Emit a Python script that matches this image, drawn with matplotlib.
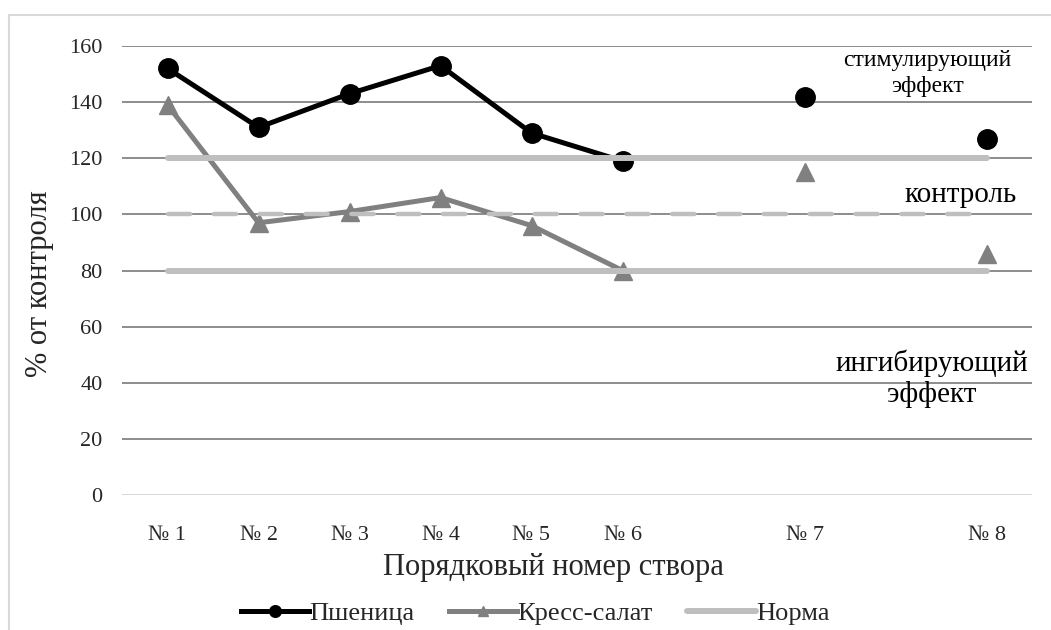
import matplotlib
matplotlib.use("Agg")
import matplotlib.pyplot as plt
from matplotlib.patches import Rectangle

plt.rcParams['font.family'] = ['Liberation Serif', 'DejaVu Serif']
plt.rcParams['lines.scale_dashes'] = False

# Data
categories = ["№ 1", "№ 2", "№ 3", "№ 4", "№ 5", "№ 6", "№ 7", "№ 8"]
positions = [1, 2, 3, 4, 5, 6, 8, 10]
wheat = [152, 131, 143, 153, 129, 119, 142, 127]
cress = [139, 97, 101, 106, 96, 80, 115, 86]
norm_upper = 120
norm_lower = 80
control = 100
yticks = [0, 20, 40, 60, 80, 100, 120, 140, 160]

W, H = 1051, 630
fig = plt.figure(figsize=(W / 100, H / 100), dpi=100)
ax = fig.add_axes([122 / W, 1 - 495 / H, (1032 - 122) / W, (495 - 46) / H])

# border
fig.patches.append(Rectangle((9 / W, -0.1), 1.2, 1 - 15 / H + 0.1, transform=fig.transFigure,
                             fill=False, edgecolor='#d9d9d9', linewidth=1.5))

ax.set_xlim(0.5, 10.5)
ax.set_ylim(0, 160)

# gridlines
for y in yticks[1:]:
    ax.axhline(y, color='#8c8c8c', linewidth=1.4, zorder=1)
ax.axhline(0, color='#d9d9d9', linewidth=1.4, zorder=1)

n_conn = 6
wheat_col = 'black'
cress_col = '#808080'
norm_col = '#bfbfbf'

ax.plot(positions[:n_conn], wheat[:n_conn], color=wheat_col, linewidth=3.6, marker='o',
        markersize=14, zorder=3, label='Пшеница')
ax.plot(positions[n_conn:], wheat[n_conn:], color=wheat_col, linestyle='none', marker='o',
        markersize=14, zorder=3)
ax.plot(positions[:n_conn], cress[:n_conn], color=cress_col, linewidth=3.6, marker='^',
        markersize=13, zorder=4, label='Кресс-салат')
ax.plot(positions[n_conn:], cress[n_conn:], color=cress_col, linestyle='none', marker='^',
        markersize=13, zorder=4)

xn = [positions[0], positions[-1]]
ax.plot(xn, [norm_upper, norm_upper], color=norm_col, linewidth=4.3, solid_capstyle='round',
        zorder=5, label='Норма')
ax.plot(xn, [norm_lower, norm_lower], color=norm_col, linewidth=4.3, solid_capstyle='round', zorder=5)
ln, = ax.plot(xn, [control, control], color=norm_col, linewidth=3.2, dash_capstyle='round', zorder=5)
ln.set_dashes((16, 17))

for s in ax.spines.values():
    s.set_visible(False)
ax.tick_params(length=0)
ax.set_yticks(yticks)
ax.set_yticklabels([str(v) for v in yticks], fontsize=16, color='#262626')
ax.set_xticks(positions)
ax.set_xticklabels(categories, fontsize=16, color='#262626')
ax.tick_params(axis='x', pad=22)
ax.tick_params(axis='y', pad=14)

ax.set_xlabel('Порядковый номер створа', fontsize=22, color='#262626', va='center')
ax.xaxis.set_label_coords((553 - 122) / 910, (495 - 567) / 449)
ax.set_ylabel('% от контроля', fontsize=22, color='#262626', va='center')
ax.yaxis.set_label_coords((40 - 122) / 910, (495 - 284) / 449)

ax.text(9.35, 150.2, 'стимулирующий\nэффект', fontsize=17, ha='center', va='center',
        linespacing=1.3, color='black')
ax.text(9.72, 107, 'контроль', fontsize=21, ha='center', va='center', color='black')
ax.text(9.4, 41.5, 'ингибирующий\nэффект', fontsize=21, ha='center', va='center',
        linespacing=1.2, color='black')

leg = fig.legend(loc='center', bbox_to_anchor=(535 / W, 1 - 613 / H), ncol=3, frameon=False,
                 fontsize=19, handlelength=2.6, handletextpad=0.0, columnspacing=1.3,
                 markerscale=0.6)
for t in leg.get_texts():
    t.set_color('#262626')

fig.savefig('out.png', dpi=100)
